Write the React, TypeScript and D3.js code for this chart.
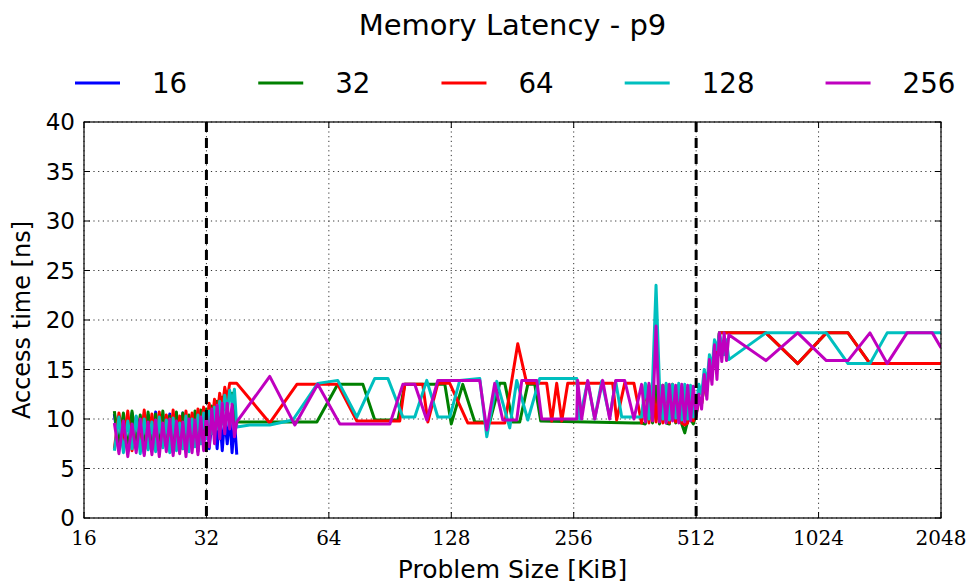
import React from 'react';
import * as d3 from 'd3';

const seriesNames = ['16', '32', '64', '128', '256'];
const seriesColors = ['#0000ff', '#008000', '#ff0000', '#00bfbf', '#bf00bf'];
const xTicks = [16, 32, 64, 128, 256, 512, 1024, 2048];
const yTicks = [0, 5, 10, 15, 20, 25, 30, 35, 40];
const cacheLines = [32, 512];

// dense sampling around the L1 boundary (KiB)
const sizesL1 = [19, 19.5, 20, 20.5, 21, 21.5, 22, 22.5, 23, 23.5, 24, 24.5, 25, 25.5, 26, 26.5, 27, 27.5, 28, 28.5, 29, 29.5, 30, 30.5, 31, 31.5, 32, 32.5, 33, 33.5, 34, 34.5, 35, 35.5, 36, 36.5, 37, 37.5, 38];
// dense sampling around the L2 boundary (KiB)
const sizesL2 = [376, 384, 392, 400, 408, 416, 424, 432, 440, 448, 456, 464, 472, 480, 488, 496, 504, 512, 520, 528, 536, 544, 552, 560, 568, 576, 584, 592, 600, 608, 616];

const blueL1 = [10.5, 7.0, 10.2, 6.8, 10.6, 7.2, 9.8, 6.5, 10.4, 7.0, 10.7, 6.8, 9.9, 7.3, 10.5, 6.6, 10.2, 7.0, 10.6, 6.9, 10.1, 7.2, 10.5, 6.7, 10.3, 7.4, 10.6, 7.0, 9.8, 10.2, 7.0, 10.4, 6.8, 10.1, 7.5, 10.3, 6.6, 9.9, 6.4];
const greenL1 = [10.8, 7.2, 10.6, 6.9, 10.8, 7.5, 10.4, 7.0, 10.7, 7.3, 10.5, 6.8, 10.8, 7.4, 10.3, 7.1, 10.7, 6.9, 10.6, 7.5, 10.4, 7.2, 10.8, 8.0, 10.9, 8.5, 11.0, 9.0, 11.3, 9.5, 11.8, 10.2, 12.2, 11.0, 12.4, 12.0, 12.6, 9.8, 9.7];
const redL1 = [7.0, 10.6, 7.5, 10.8, 6.8, 10.2, 7.4, 10.9, 7.0, 10.5, 6.9, 10.7, 7.3, 10.4, 6.8, 10.9, 7.2, 10.3, 7.0, 10.8, 7.5, 10.6, 8.0, 11.0, 8.5, 11.2, 9.0, 11.6, 9.5, 12.0, 10.2, 12.6, 11.0, 13.2, 12.0, 13.6, 13.6, 13.6, 13.6];
const cyanL1 = [6.8, 10.2, 6.6, 9.8, 7.0, 10.3, 6.5, 10.0, 6.9, 9.7, 6.7, 10.2, 7.1, 9.9, 6.6, 10.1, 6.8, 9.6, 7.0, 10.3, 6.7, 10.0, 7.2, 10.4, 7.5, 10.6, 8.0, 10.8, 8.5, 11.2, 9.0, 11.8, 9.5, 12.4, 10.5, 12.9, 11.5, 13.0, 9.2];
const magentaL1 = [9.6, 6.5, 9.8, 6.2, 9.5, 6.6, 10.0, 6.3, 9.7, 6.4, 9.9, 6.2, 9.6, 6.7, 10.0, 6.3, 9.8, 6.5, 9.7, 6.2, 10.0, 6.6, 9.9, 6.4, 10.2, 6.8, 10.6, 7.2, 11.0, 7.5, 11.4, 8.0, 11.6, 8.5, 11.6, 9.0, 11.5, 8.2, 9.7];

const greenMid: [number, number][] = [[40.9, 9.7], [59.8, 9.7], [67.3, 13.5], [77.6, 13.5], [83.0, 9.9], [94.6, 9.9], [98.4, 13.5], [123.4, 13.5], [128, 9.5], [136.6, 13.5], [146.2, 9.7], [159.2, 9.7], [168.4, 13.6], [173.3, 13.6], [181.3, 9.7], [188.6, 9.7], [197.4, 13.5], [205.3, 13.5], [212.4, 9.8], [360, 9.6]];
const redMid: [number, number][] = [[45.8, 9.6], [53.4, 13.5], [67.3, 13.5], [75.0, 9.8], [95.6, 9.8], [98.4, 13.5], [108.9, 13.5], [112.1, 9.7], [118.6, 13.6], [126.9, 13.6], [140.5, 9.6], [173.3, 9.6], [186.5, 17.6], [196.2, 13.6], [219.7, 13.6], [226.0, 9.8], [232.5, 13.6], [239.2, 9.8], [247.5, 13.6], [319.2, 13.6], [326.5, 9.9], [341.6, 13.6], [360, 13.6]];
const cyanMid: [number, number][] = [[40.9, 9.4], [45.8, 9.4], [52.2, 9.9], [60.1, 13.6], [67.3, 13.9], [75.0, 10.2], [83.0, 14.1], [89.4, 14.1], [97.3, 10.2], [104.1, 10.2], [111.4, 13.9], [118.6, 10.2], [126.9, 10.2], [134.3, 13.9], [150.4, 14.1], [156.5, 8.2], [165.6, 13.8], [178.2, 9.1], [185.4, 13.9], [197.4, 9.9], [211.2, 14.1], [260.4, 14.1], [264.8, 10.0], [277.1, 13.8], [288.3, 10.0], [300.0, 13.8], [313.8, 10.2], [324.7, 13.8], [335.9, 10.2], [360, 10.2]];
const magentaMid: [number, number][] = [[45.8, 14.3], [52.8, 9.4], [60.1, 13.5], [68.1, 9.5], [90.4, 9.5], [97.3, 13.5], [104.1, 13.5], [111.4, 9.9], [118.6, 13.9], [150.4, 13.9], [156.5, 8.9], [163.7, 13.6], [171.3, 9.9], [185.4, 9.9], [190.8, 13.9], [207.7, 13.9], [213.6, 10.0], [260.4, 10.0], [261.8, 13.9], [267.8, 10.0], [277.1, 13.9], [288.3, 10.0], [301.6, 13.9], [313.8, 10.0], [324.7, 13.9], [341.6, 13.9], [360, 10.0]];

const greenL2 = [9.6, 9.5, 13.4, 9.6, 13.3, 9.5, 13.4, 9.6, 9.5, 13.3, 9.6, 13.4, 9.5, 8.6, 9.8, 10.0, 9.5, 10.5, 12.0, 11.5, 13.5, 13.0, 15.5, 14.5, 17.0, 16.5, 18.7, 18.7, 18.7, 18.7, 18.7];
const redL2 = [9.6, 13.5, 9.6, 13.5, 9.7, 13.4, 9.6, 13.5, 9.6, 13.5, 9.7, 13.4, 9.6, 9.4, 9.6, 13.3, 9.8, 10.5, 12.0, 11.5, 13.5, 13.0, 15.5, 14.5, 17.0, 16.0, 18.7, 18.7, 18.7, 18.7, 18.7];
const cyanL2 = [10.2, 13.6, 10.0, 13.7, 23.5, 13.5, 10.0, 13.6, 9.9, 13.5, 10.1, 13.6, 9.9, 13.5, 10.0, 13.4, 10.2, 11.0, 13.5, 12.5, 15.0, 13.5, 16.5, 15.0, 18.0, 17.0, 18.7, 17.5, 16.5, 18.0, 16.0];
const magentaL2 = [13.5, 9.7, 13.6, 9.8, 19.4, 9.7, 13.4, 9.6, 13.5, 9.8, 13.4, 9.6, 13.5, 9.7, 13.4, 9.8, 13.3, 10.2, 12.5, 11.0, 14.5, 12.0, 16.0, 13.5, 17.5, 14.0, 18.7, 15.8, 18.7, 15.9, 18.5];

const greenTail: [number, number][] = [[760, 18.7], [910, 15.6], [1070, 18.7], [1210, 18.7], [1370, 15.6], [2048, 15.6]];
const redTail: [number, number][] = [[760, 18.7], [910, 15.6], [1070, 18.7], [1210, 18.7], [1370, 15.6], [2048, 15.6]];
const cyanTail: [number, number][] = [[760, 18.7], [1070, 18.7], [1210, 15.6], [1370, 15.6], [1510, 18.7], [2048, 18.7]];
const magentaTail: [number, number][] = [[760, 15.9], [910, 18.7], [1070, 15.9], [1210, 15.9], [1370, 18.7], [1510, 15.6], [1690, 18.7], [1950, 18.7], [2048, 17.2]];

const zip = (xs: number[], ys: number[]): [number, number][] => xs.map((x, i) => [x, ys[i]] as [number, number]);

const seriesData: [number, number][][] = [
  zip(sizesL1, blueL1),
  [...zip(sizesL1, greenL1), ...greenMid, ...zip(sizesL2, greenL2), ...greenTail],
  [...zip(sizesL1, redL1), ...redMid, ...zip(sizesL2, redL2), ...redTail],
  [...zip(sizesL1, cyanL1), ...cyanMid, ...zip(sizesL2, cyanL2), ...cyanTail],
  [...zip(sizesL1, magentaL1), ...magentaMid, ...zip(sizesL2, magentaL2), ...magentaTail],
];

const W = 968, H = 583;
const M = { left: 84, right: 941, top: 122, bottom: 518 };
const FONT = '"DejaVu Sans", sans-serif';

export default function App() {
  const x = d3.scaleLog().base(2).domain([16, 2048]).range([M.left, M.right]);
  const y = d3.scaleLinear().domain([0, 40]).range([M.bottom, M.top]);
  const line = d3.line<[number, number]>().x(d => x(d[0])).y(d => y(d[1]));
  const tickLen = 6;

  // legend layout
  const legendStart = 75, lineLen = 45, textGap = 32, colGap = 71, legendFs = 27.7;
  let cursor = legendStart;
  const legendItems = seriesNames.map((name, i) => {
    const item = { name, color: seriesColors[i], x0: cursor };
    cursor += lineLen + textGap + name.length * 0.636 * legendFs + colGap;
    return item;
  });

  return (
    <div style={{ position: 'absolute', left: 0, top: 0 }}>
      <svg width={W} height={H} style={{ display: 'block', background: '#fff' }}>
        <defs>
          <clipPath id="plotClip">
            <rect x={M.left} y={M.top} width={M.right - M.left} height={M.bottom - M.top} />
          </clipPath>
        </defs>
        <rect x={0} y={0} width={W} height={H} fill="#fff" />
        {/* grid */}
        {xTicks.map(t => (
          <line key={'gx' + t} x1={x(t)} x2={x(t)} y1={M.top} y2={M.bottom} stroke="#333" strokeWidth={1} strokeDasharray="1.2,3.5" />
        ))}
        {yTicks.map(t => (
          <line key={'gy' + t} x1={M.left} x2={M.right} y1={y(t)} y2={y(t)} stroke="#333" strokeWidth={1} strokeDasharray="1.2,3.5" />
        ))}
        {/* series */}
        <g clipPath="url(#plotClip)">
          {seriesData.map((d, i) => (
            <path key={'s' + i} d={line(d) || ''} fill="none" stroke={seriesColors[i]} strokeWidth={3} strokeLinejoin="round" />
          ))}
        </g>
        {/* cache boundary lines */}
        {cacheLines.map(c => (
          <line key={'c' + c} x1={x(c)} x2={x(c)} y1={M.top} y2={M.bottom} stroke="#000" strokeWidth={3} strokeDasharray="10,6" />
        ))}
        {/* frame */}
        <rect x={M.left} y={M.top} width={M.right - M.left} height={M.bottom - M.top} fill="none" stroke="#000" strokeWidth={1.2} />
        {/* ticks */}
        {xTicks.map(t => (
          <g key={'tx' + t}>
            <line x1={x(t)} x2={x(t)} y1={M.bottom} y2={M.bottom - tickLen} stroke="#000" strokeWidth={1} />
            <line x1={x(t)} x2={x(t)} y1={M.top} y2={M.top + tickLen} stroke="#000" strokeWidth={1} />
            <text x={x(t)} y={545} textAnchor="middle" fontFamily='"DejaVu Serif", "Liberation Serif", serif' fontSize={20} fill="#000">{t}</text>
          </g>
        ))}
        {yTicks.map(t => (
          <g key={'ty' + t}>
            <line x1={M.left} x2={M.left + tickLen} y1={y(t)} y2={y(t)} stroke="#000" strokeWidth={1} />
            <line x1={M.right} x2={M.right - tickLen} y1={y(t)} y2={y(t)} stroke="#000" strokeWidth={1} />
            <text x={75} y={y(t)} dy="0.36em" textAnchor="end" fontFamily={FONT} fontSize={23} fill="#000">{t}</text>
          </g>
        ))}
        {/* axis labels */}
        <text x={(M.left + M.right) / 2} y={578} textAnchor="middle" fontFamily={FONT} fontSize={25} fill="#000">Problem Size [KiB]</text>
        <text transform={`translate(30,${(M.top + M.bottom) / 2}) rotate(-90)`} textAnchor="middle" fontFamily={FONT} fontSize={24} fill="#000">Access time [ns]</text>
        {/* title */}
        <text x={(M.left + M.right) / 2} y={35} textAnchor="middle" fontFamily={FONT} fontSize={29} fill="#000">Memory Latency - p9</text>
        {/* legend */}
        {legendItems.map(it => (
          <g key={'l' + it.name}>
            <line x1={it.x0} x2={it.x0 + lineLen} y1={83} y2={83} stroke={it.color} strokeWidth={3.2} />
            <text x={it.x0 + lineLen + textGap} y={83} dy="0.36em" fontFamily={FONT} fontSize={legendFs} fill="#000">{it.name}</text>
          </g>
        ))}
      </svg>
    </div>
  );
}
